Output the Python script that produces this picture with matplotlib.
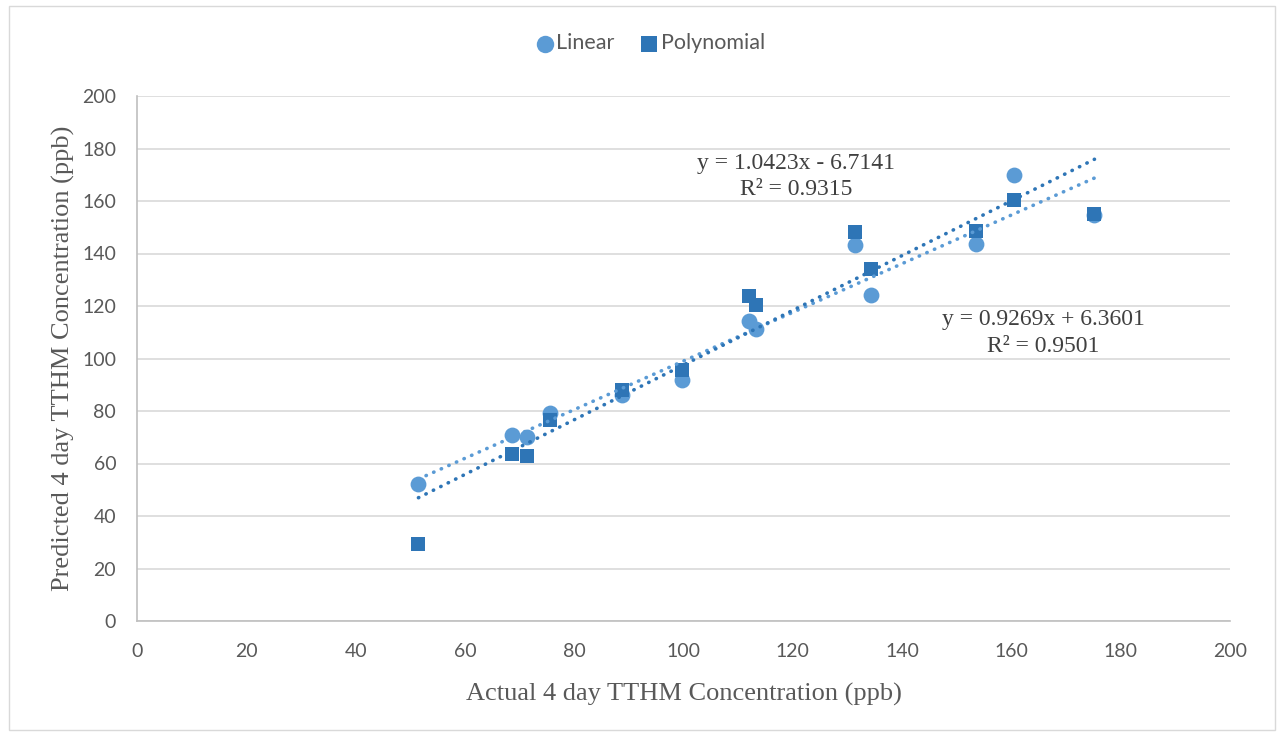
import matplotlib
matplotlib.use("Agg")
import matplotlib.pyplot as plt
import numpy as np
from matplotlib.patches import Rectangle

# Data
actual = [51.5, 68.7, 71.4, 75.6, 88.8, 99.8, 112.0, 113.2, 131.3, 134.4, 153.6, 160.5, 175.2]
linear_pred = [52.2, 71.0, 70.2, 79.1, 86.1, 91.8, 114.4, 111.1, 143.2, 124.2, 143.5, 169.9, 154.5]
poly_pred = [29.3, 63.6, 62.9, 76.6, 88.0, 95.6, 123.8, 120.4, 148.3, 134.0, 148.6, 160.4, 154.9]
linear_fit = (0.9269, 6.3601, 0.9501)
poly_fit = (1.0423, -6.7141, 0.9315)
x_ticks = [0, 20, 40, 60, 80, 100, 120, 140, 160, 180, 200]
y_ticks = [0, 20, 40, 60, 80, 100, 120, 140, 160, 180, 200]

c_lin = "#5B9BD5"
c_poly = "#2E75B6"
gray_txt = "#595959"

fig = plt.figure(figsize=(12.81, 7.34), dpi=100)
fig.patches.append(Rectangle((0.007, 0.005), 0.988, 0.987, transform=fig.transFigure,
                             fill=False, edgecolor="#d9d9d9", linewidth=1))
ax = fig.add_axes([137/1281, 1-621/734, (1230-137)/1281, (621-96)/734])

ax.set_xlim(0, 200)
ax.set_ylim(0, 200)
ax.set_xticks(x_ticks)
ax.set_yticks(y_ticks)
ax.yaxis.grid(True, color="#d9d9d9", linewidth=1.2)
ax.set_axisbelow(True)
for s in ["top", "right"]:
    ax.spines[s].set_visible(False)
for s in ["left", "bottom"]:
    ax.spines[s].set_color("#bfbfbf")
    ax.spines[s].set_linewidth(1.2)
ax.tick_params(axis="both", length=0, labelsize=14, labelcolor=gray_txt)
ax.tick_params(axis="x", pad=16)
ax.tick_params(axis="y", pad=15)
for lbl in ax.get_xticklabels() + ax.get_yticklabels():
    lbl.set_fontfamily("Lato")

ax.scatter(actual, linear_pred, s=130, marker="o", color=c_lin, zorder=3, label="Linear", linewidths=0)
ax.scatter(actual, poly_pred, s=115, marker="s", color=c_poly, zorder=3, label="Polynomial", linewidths=0)

xs = np.array([min(actual), max(actual)])
ax.plot(xs, linear_fit[0]*xs + linear_fit[1], color=c_lin, linestyle=(0, (0.1, 2.2)),
        linewidth=2.6, dash_capstyle="round", zorder=4)
ax.plot(xs, poly_fit[0]*xs + poly_fit[1], color=c_poly, linestyle=(0, (0.1, 2.2)),
        linewidth=2.6, dash_capstyle="round", zorder=4)

ax.text(120.6, 169.3, f"y = {poly_fit[0]:.4f}x - {abs(poly_fit[1]):.4f}\nR² = {poly_fit[2]:.4f}",
        ha="center", va="center", multialignment="center", fontsize=17,
        fontfamily="Liberation Serif", color="#404040", linespacing=1.35)
ax.text(165.8, 109.6, f"y = {linear_fit[0]:.4f}x + {linear_fit[1]:.4f}\nR² = {linear_fit[2]:.4f}",
        ha="center", va="center", multialignment="center", fontsize=17,
        fontfamily="Liberation Serif", color="#404040", linespacing=1.35)

ax.set_xlabel("Actual 4 day TTHM Concentration (ppb)", fontsize=19, fontfamily="Liberation Serif",
              color=gray_txt, labelpad=16)
ax.set_ylabel("Predicted 4 day TTHM Concentration (ppb)", fontsize=19, fontfamily="Liberation Serif",
              color=gray_txt, labelpad=5)

leg = fig.legend(loc="center", bbox_to_anchor=(0.507, 0.941), ncol=2, frameon=False,
                 prop={"family": "Lato", "size": 15.5}, handletextpad=0.05, columnspacing=1.1,
                 markerscale=1.1, handlelength=1.0)
for t in leg.get_texts():
    t.set_color(gray_txt)

fig.savefig("out.png", dpi=100)
